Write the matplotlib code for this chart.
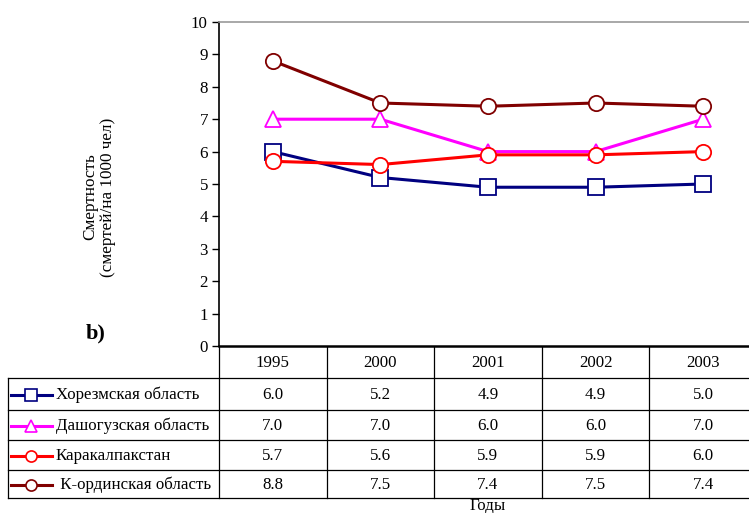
import matplotlib.pyplot as plt
from matplotlib.lines import Line2D

plt.rcParams['font.family'] = ['Liberation Serif', 'DejaVu Serif']

years = ['1995', '2000', '2001', '2002', '2003']
regions = ['Хорезмская область', 'Дашогузская область', 'Каракалпакстан', ' К-ординская область']
khorezm = [6.0, 5.2, 4.9, 4.9, 5.0]
dashoguz = [7.0, 7.0, 6.0, 6.0, 7.0]
karakalpak = [5.7, 5.6, 5.9, 5.9, 6.0]
kzyl_orda = [8.8, 7.5, 7.4, 7.5, 7.4]

series = [khorezm, dashoguz, karakalpak, kzyl_orda]
colors = ['#000080', '#FF00FF', '#FF0000', '#800000']
markers = ['s', '^', 'o', 'o']
msizes = [11, 11, 11, 11]

W, H = 749, 513
fig = plt.figure(figsize=(W / 100, H / 100), dpi=100)
fs = 12.2

# pixel layout (from top-left); plot area runs a bit past the right edge
ax_l, ax_r, ax_t, ax_b = 219, 757, 22, 346
col_w = (ax_r - ax_l) / len(years)

ax = fig.add_axes([ax_l / W, 1 - ax_b / H, (ax_r - ax_l) / W, (ax_b - ax_t) / H])
x = list(range(len(years)))
for vals, c, m, ms in zip(series, colors, markers, msizes):
    ax.plot(x, vals, color=c, lw=2.2, marker=m, ms=ms, mfc='white', mec=c, mew=1.3,
            clip_on=False, zorder=3)

ax.set_xlim(-0.5, len(years) - 0.5)
ax.set_ylim(0, 10)
ax.set_yticks(range(0, 11))
ax.set_xticks([])
ax.tick_params(axis='y', direction='out', length=5, width=1, labelsize=fs, pad=3)
ax.spines['left'].set_linewidth(1.2)
ax.spines['bottom'].set_linewidth(1.8)
ax.spines['top'].set_color('#999999')
ax.spines['top'].set_linewidth(1.2)
ax.spines['right'].set_visible(False)

# overlay axes in pixel coordinates for table and labels
ov = fig.add_axes([0, 0, 1, 1], zorder=-1)
ov.set_xlim(0, W)
ov.set_ylim(H, 0)
ov.axis('off')

tbl_l = 8
hdr_t = ax_b
row_edges = [378, 410, 440, 470, 498]
lw = 0.9

# column lines
for i in range(len(years) + 1):
    xc = ax_l + i * col_w
    ov.plot([xc, xc], [hdr_t, row_edges[-1]], color='black', lw=lw)
ov.plot([tbl_l, tbl_l], [row_edges[0], row_edges[-1]], color='black', lw=lw)
for ye in row_edges:
    ov.plot([tbl_l, ax_r], [ye, ye], color='black', lw=lw)

# header
for i, yr in enumerate(years):
    ov.text(ax_l + (i + 0.5) * col_w, (hdr_t + row_edges[0]) / 2 + 1, yr,
            ha='center', va='center', fontsize=fs)

# rows
for r, (name, vals, c, m) in enumerate(zip(regions, series, colors, markers)):
    yc = (row_edges[r] + row_edges[r + 1]) / 2 + 1
    ov.add_line(Line2D([11, 52], [yc, yc], color=c, lw=2.2))
    ov.plot([31], [yc], marker=m, ms=8, mfc='white', mec=c, mew=1.2, color=c)
    ov.text(56, yc, name, ha='left', va='center', fontsize=fs)
    for i, v in enumerate(vals):
        ov.text(ax_l + (i + 0.5) * col_w, yc, f'{v:.1f}', ha='center', va='center', fontsize=fs)

ov.text(488, 506, 'Годы', ha='center', va='center', fontsize=fs)
ov.text(99, 197, 'Смертность\n(смертей/на 1000 чел)', rotation=90, ha='center', va='center',
        fontsize=12.3, linespacing=1.15)
ov.text(86, 333, 'b)', ha='left', va='center', fontsize=16, fontweight='bold')

fig.savefig('out.png', dpi=100)
